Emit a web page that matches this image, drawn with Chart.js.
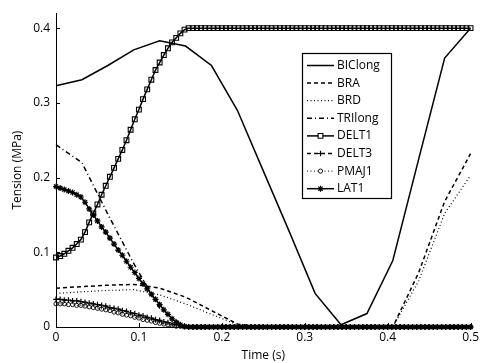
<!DOCTYPE html>
<html>
<head>
<meta charset="utf-8">
<title>Tension</title>
<script src="https://cdn.jsdelivr.net/npm/chart.js@4/dist/chart.umd.min.js"></script>
<style>
  html, body { margin: 0; padding: 0; background: #fff; }
  #chart { display: block; }
</style>
</head>
<body>
<canvas id="chart" width="482" height="363"></canvas>
<script>
// Tiempos de la malla gruesa (líneas sin marcadores)
const tCoarse = [0, 0.03125, 0.0625, 0.09375, 0.125, 0.15625, 0.1875, 0.21875, 0.25,
                 0.28125, 0.3125, 0.34375, 0.375, 0.40625, 0.4375, 0.46875, 0.5];

const biclong = [0.323, 0.331, 0.350, 0.371, 0.383, 0.376, 0.350, 0.290, 0.209,
                 0.128, 0.045, 0.003, 0.018, 0.089, 0.225, 0.360, 0.400];
const bra     = [0.052, 0.054, 0.056, 0.057, 0.052, 0.040, 0.022, 0.004, 0,
                 0, 0, 0, 0, 0, 0.073, 0.168, 0.232];
const brd     = [0.045, 0.047, 0.049, 0.050, 0.043, 0.031, 0.017, 0.003, 0,
                 0, 0, 0, 0, 0, 0.062, 0.152, 0.203];
const trilong = [0.244, 0.220, 0.151, 0.085, 0.025, 0, 0, 0, 0,
                 0, 0, 0, 0, 0, 0, 0, 0];

// Malla fina (series con marcadores), paso de 0.005 s
const tFine = Array.from({ length: 101 }, (_, i) => +(i * 0.005).toFixed(3));

const delt1 = [
  0.093, 0.095, 0.098, 0.102, 0.106, 0.111, 0.117, 0.127, 0.140, 0.152,
  0.164, 0.177, 0.189, 0.201, 0.213, 0.225, 0.237, 0.250, 0.264, 0.278,
  0.291, 0.305, 0.318, 0.331, 0.344, 0.354, 0.364, 0.373, 0.381, 0.387,
  0.393, 0.398, 0.400, 0.400, 0.400, 0.400, 0.400, 0.400, 0.400, 0.400,
  0.400, 0.400, 0.400, 0.400, 0.400, 0.400, 0.400, 0.400, 0.400, 0.400,
  0.400, 0.400, 0.400, 0.400, 0.400, 0.400, 0.400, 0.400, 0.400, 0.400,
  0.400, 0.400, 0.400, 0.400, 0.400, 0.400, 0.400, 0.400, 0.400, 0.400,
  0.400, 0.400, 0.400, 0.400, 0.400, 0.400, 0.400, 0.400, 0.400, 0.400,
  0.400, 0.400, 0.400, 0.400, 0.400, 0.400, 0.400, 0.400, 0.400, 0.400,
  0.400, 0.400, 0.400, 0.400, 0.400, 0.400, 0.400, 0.400, 0.400, 0.400,
  0.400
];
const delt3 = [
  0.037, 0.037, 0.036, 0.036, 0.035, 0.035, 0.034, 0.033, 0.032, 0.031,
  0.030, 0.029, 0.028, 0.026, 0.025, 0.024, 0.022, 0.021, 0.019, 0.018,
  0.016, 0.015, 0.013, 0.012, 0.010, 0.009, 0.007, 0.006, 0.004, 0.003,
  0.002, 0.001, 0, 0, 0, 0, 0, 0, 0, 0,
  0, 0, 0, 0, 0, 0, 0, 0, 0, 0,
  0, 0, 0, 0, 0, 0, 0, 0, 0, 0,
  0, 0, 0, 0, 0, 0, 0, 0, 0, 0,
  0, 0, 0, 0, 0, 0, 0, 0, 0, 0,
  0, 0, 0, 0, 0, 0, 0, 0, 0, 0,
  0, 0, 0, 0, 0, 0, 0, 0, 0, 0,
  0
];
const pmaj1 = [
  0.031, 0.031, 0.031, 0.030, 0.030, 0.029, 0.029, 0.028, 0.027, 0.026,
  0.025, 0.024, 0.023, 0.022, 0.020, 0.019, 0.017, 0.016, 0.015, 0.013,
  0.012, 0.010, 0.009, 0.008, 0.006, 0.005, 0.004, 0.003, 0.002, 0.001,
  0.001, 0, 0, 0, 0, 0, 0, 0, 0, 0,
  0, 0, 0, 0, 0, 0, 0, 0, 0, 0,
  0, 0, 0, 0, 0, 0, 0, 0, 0, 0,
  0, 0, 0, 0, 0, 0, 0, 0, 0, 0,
  0, 0, 0, 0, 0, 0, 0, 0, 0, 0,
  0, 0, 0, 0, 0, 0, 0, 0, 0, 0,
  0, 0, 0, 0, 0, 0, 0, 0, 0, 0,
  0
];
const lat1 = [
  0.188, 0.186, 0.184, 0.182, 0.180, 0.177, 0.174, 0.167, 0.158, 0.150,
  0.142, 0.134, 0.127, 0.119, 0.111, 0.103, 0.096, 0.088, 0.080, 0.073,
  0.065, 0.058, 0.051, 0.044, 0.037, 0.030, 0.023, 0.017, 0.011, 0.006,
  0.003, 0.001, 0, 0, 0, 0, 0, 0, 0, 0,
  0, 0, 0, 0, 0, 0, 0, 0, 0, 0,
  0, 0, 0, 0, 0, 0, 0, 0, 0, 0,
  0, 0, 0, 0, 0, 0, 0, 0, 0, 0,
  0, 0, 0, 0, 0, 0, 0, 0, 0, 0,
  0, 0, 0, 0, 0, 0, 0, 0, 0, 0,
  0, 0, 0, 0, 0, 0, 0, 0, 0, 0,
  0
];

const xTicks = [0, 0.1, 0.2, 0.3, 0.4, 0.5];
const yTicks = [0, 0.1, 0.2, 0.3, 0.4];

const fontFamily = '"Open Sans", "DejaVu Sans", sans-serif';

function puntos(ts, vals) {
  return ts.map((t, i) => ({ x: t, y: vals[i] }));
}

function serie(label, ts, vals, extra) {
  return Object.assign({
    label: label,
    data: puntos(ts, vals),
    borderColor: '#000',
    backgroundColor: 'rgba(0,0,0,0)',
    borderWidth: 1.5,
    pointRadius: 0,
    pointBorderWidth: 1,
    pointBackgroundColor: 'rgba(0,0,0,0)',
    tension: 0,
    fill: false,
    clip: false
  }, extra || {});
}

// Marcas de escala hacia dentro, como en MATLAB
const ticksHaciaDentro = {
  id: 'ticksHaciaDentro',
  afterDraw(chart) {
    const ctx = chart.ctx;
    const a = chart.chartArea;
    const xs = chart.scales.x, ys = chart.scales.y;
    ctx.save();
    ctx.strokeStyle = '#000';
    ctx.lineWidth = 1;
    ctx.beginPath();
    xTicks.forEach(v => {
      const px = Math.round(xs.getPixelForValue(v)) + 0.5;
      ctx.moveTo(px, a.bottom);
      ctx.lineTo(px, a.bottom - 4);
    });
    yTicks.forEach(v => {
      const py = Math.round(ys.getPixelForValue(v)) + 0.5;
      ctx.moveTo(a.left, py);
      ctx.lineTo(a.left + 4, py);
    });
    ctx.stroke();
    ctx.restore();
  }
};

// Leyenda en caja dentro del área del gráfico
const leyendaCaja = {
  id: 'leyendaCaja',
  afterDraw(chart) {
    const ctx = chart.ctx;
    const x0 = 302.5, y0 = 53.5, w = 89, h = 145;
    ctx.save();
    ctx.fillStyle = '#fff';
    ctx.fillRect(x0, y0, w, h);
    ctx.strokeStyle = '#000';
    ctx.lineWidth = 1.2;
    ctx.setLineDash([]);
    ctx.strokeRect(x0, y0, w, h);

    chart.data.datasets.forEach((ds, i) => {
      const y = 65.5 + i * 17.6;
      ctx.strokeStyle = '#000';
      ctx.lineWidth = ds.borderWidth;
      ctx.setLineDash(ds.borderDash || []);
      ctx.beginPath();
      ctx.moveTo(307, y);
      ctx.lineTo(334, y);
      ctx.stroke();
      ctx.setLineDash([]);
      if (ds.pointRadius > 0) {
        ctx.fillStyle = '#fff';
        ctx.lineWidth = ds.pointBorderWidth;
        Chart.helpers.drawPoint(ctx, {
          pointStyle: ds.pointStyle,
          radius: ds.pointRadius,
          borderWidth: ds.pointBorderWidth,
          rotation: 0
        }, 320.5, y);
      }
      ctx.fillStyle = '#000';
      ctx.font = '12px ' + fontFamily;
      ctx.textBaseline = 'middle';
      ctx.textAlign = 'left';
      ctx.fillText(ds.label, 337, y);
    });
    ctx.restore();
  }
};

Chart.defaults.font.family = fontFamily;
Chart.defaults.font.size = 12;
Chart.defaults.color = '#000';

const ctx = document.getElementById('chart').getContext('2d');
new Chart(ctx, {
  type: 'line',
  data: {
    datasets: [
      serie('BIClong', tCoarse, biclong),
      serie('BRA', tCoarse, bra, { borderDash: [4, 3] }),
      serie('BRD', tCoarse, brd, { borderDash: [1, 2.5], borderWidth: 1.2 }),
      serie('TRIlong', tCoarse, trilong, { borderDash: [5, 3, 1, 3] }),
      serie('DELT1', tFine, delt1, { pointStyle: 'rect', pointRadius: 3.4, pointBorderWidth: 1.1 }),
      serie('DELT3', tFine, delt3, { borderDash: [4, 3], pointStyle: 'cross', pointRadius: 2.8, pointBorderWidth: 1.2 }),
      serie('PMAJ1', tFine, pmaj1, { borderDash: [1, 2.5], borderWidth: 1, pointStyle: 'circle', pointRadius: 2.1, pointBorderWidth: 0.9 }),
      serie('LAT1', tFine, lat1, { pointStyle: 'star', pointRadius: 3, pointBorderWidth: 1.2 })
    ]
  },
  options: {
    responsive: false,
    animation: false,
    events: [],
    layout: { padding: { left: 0, right: 5, top: 10, bottom: 0 } },
    plugins: {
      legend: { display: false },
      tooltip: { enabled: false }
    },
    scales: {
      x: {
        type: 'linear',
        min: 0,
        max: 0.5,
        afterFit(scale) { scale.height = 36; },
        afterBuildTicks(scale) { scale.ticks = xTicks.map(v => ({ value: v })); },
        ticks: { padding: 3, maxRotation: 0, font: { size: 12 } },
        grid: { display: false, drawTicks: false },
        border: { display: true, color: '#000', width: 1 },
        title: { display: true, text: 'Time (s)', padding: { top: 0, bottom: 0 }, font: { size: 12 } }
      },
      y: {
        type: 'linear',
        min: 0,
        max: 0.42,
        afterFit(scale) { scale.width = 56; },
        afterBuildTicks(scale) { scale.ticks = yTicks.map(v => ({ value: v })); },
        ticks: { padding: 6, font: { size: 12 } },
        grid: { display: false, drawTicks: false },
        border: { display: true, color: '#000', width: 1 },
        title: { display: true, text: 'Tension (MPa)', padding: { top: 10, bottom: 0 }, font: { size: 12 } }
      }
    }
  },
  plugins: [ticksHaciaDentro, leyendaCaja]
});
</script>
</body>
</html>
